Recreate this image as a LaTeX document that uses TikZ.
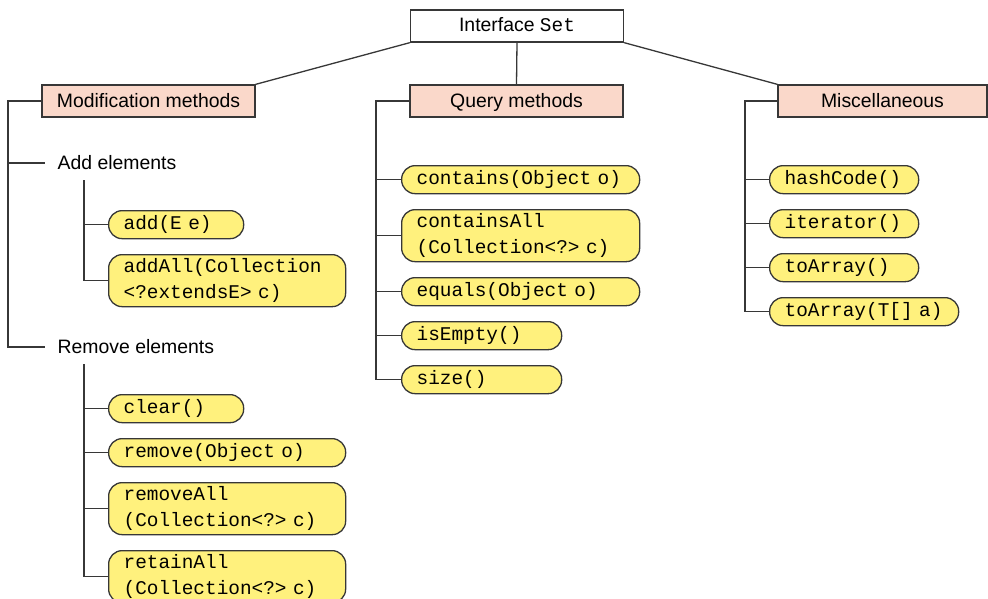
\documentclass[tikz,border=0pt]{standalone}
\usepackage{fontspec}
\setmainfont{Liberation Sans}
\setmonofont{Liberation Mono}
\usetikzlibrary{positioning}
\definecolor{hdrpink}{RGB}{250,216,202}
\definecolor{pillyellow}{RGB}{255,241,125}
\definecolor{linegray}{RGB}{55,55,55}
\newcommand{\sanssize}{\fontsize{19.4}{26}\selectfont}
\newcommand{\monosize}{\fontsize{19.4}{26}\selectfont\ttfamily\spaceskip=0.6em\relax}
\newcommand{\codeline}[1]{\mbox{#1}}

\begin{document}
\begin{tikzpicture}[x=1pt,y=-1pt,line width=1.3pt,
    wire/.style={draw=linegray},
    hdr/.style={draw=linegray,fill=hdrpink,minimum width=213,minimum height=32,inner sep=0,
        text height=14,text depth=2,font=\sanssize},
    lbl/.style={anchor=west,inner xsep=12,inner ysep=0,font=\sanssize},
    pill/.style={draw=linegray,fill=pillyellow,rounded corners=13.5,anchor=north west,
        inner xsep=15,inner ysep=0,align=left,minimum height=28,text width=#1,font=\monosize},
    twoline/.style={minimum height=52}]
        \useasboundingbox (0,0) rectangle (988,598);
        % headers
        \node[hdr,fill=white,text depth=4] (set) at (517,26) {Interface {\monosize Set}};
        \node[hdr] (mod) at (148.5,101) {Modification methods};
        \node[hdr] (qry) at (516.5,101) {Query methods};
        \node[hdr,minimum width=209] (misc) at (882.5,101) {Miscellaneous};
        \draw[wire] (set.south west) -- (mod.north east);
        \draw[wire] (set.south) -- (qry.north);
        \draw[wire] (set.south east) -- (misc.north west);

        % modification methods
        \node[lbl] (addel) at (45,163) {Add elements};
        \node[lbl] (remel) at (45,347) {Remove elements};
        \coordinate (modtrunk) at (8,101);
        \draw[wire] (mod.west) -- (modtrunk) |- (remel.west);
        \draw[wire] (modtrunk |- addel.west) -- (addel.west);

        \node[pill=105pt] (adde) at (108,210) {\codeline{add(E e)}};
        \node[pill=207pt,twoline] (addall) at (108,254) {\codeline{addAll(Collection}\\\codeline{<?extendsE> c)}};
        \coordinate (addtrunk) at (84,180);
        \draw[wire] (addtrunk) |- (addall.west);
        \draw[wire] (addtrunk |- adde.west) -- (adde.west);

        \node[pill=105pt] (clr) at (108,394) {\codeline{clear()}};
        \node[pill=207pt] (rem) at (108,438) {\codeline{remove(Object o)}};
        \node[pill=207pt,twoline] (remall) at (108,482) {\codeline{removeAll}\\\codeline{(Collection<?> c)}};
        \node[pill=207pt,twoline] (retall) at (108,550) {\codeline{retainAll}\\\codeline{(Collection<?> c)}};
        \coordinate (remtrunk) at (84,364);
        \draw[wire] (remtrunk) |- (retall.west);
        \foreach \n in {clr,rem,remall}
            \draw[wire] (remtrunk |- \n.west) -- (\n.west);

        % query methods
        \node[pill=208pt] (cont) at (401,165) {\codeline{contains(Object o)}};
        \node[pill=208pt,twoline] (contall) at (401,209) {\codeline{containsAll}\\\codeline{(Collection<?> c)}};
        \node[pill=208pt] (eq) at (401,277) {\codeline{equals(Object o)}};
        \node[pill=130pt] (isempty) at (401,321) {\codeline{isEmpty()}};
        \node[pill=130pt] (size) at (401,365) {\codeline{size()}};
        \coordinate (qrytrunk) at (376,101);
        \draw[wire] (qry.west) -- (qrytrunk) |- (size.west);
        \foreach \n in {cont,contall,eq,isempty}
            \draw[wire] (qrytrunk |- \n.west) -- (\n.west);

        % miscellaneous
        \node[pill=119pt] (hash) at (769,165) {\codeline{hashCode()}};
        \node[pill=119pt] (iter) at (769,209) {\codeline{iterator()}};
        \node[pill=119pt] (toarr) at (769,253) {\codeline{toArray()}};
        \node[pill=159pt] (toarrt) at (769,297) {\codeline{toArray(T[] a)}};
        \coordinate (misctrunk) at (745,101);
        \draw[wire] (misc.west) -- (misctrunk) |- (toarrt.west);
        \foreach \n in {hash,iter,toarr}
            \draw[wire] (misctrunk |- \n.west) -- (\n.west);
\end{tikzpicture}
\end{document}
